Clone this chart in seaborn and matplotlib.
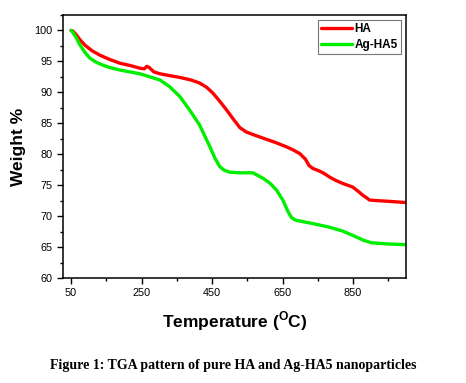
import numpy as np
import pandas as pd
import matplotlib
matplotlib.use("Agg")
import matplotlib.pyplot as plt
import matplotlib.ticker as tkr
import seaborn as sns

# TGA data
temp_ha = [50, 55, 65, 75, 90, 110, 132, 160, 189, 220, 245, 258, 265, 272, 285, 302, 330,
           359, 390, 415, 435, 452, 470, 492, 510, 529, 547, 570, 595, 630, 661, 680, 699,
           715, 725, 736, 750, 765, 784, 800, 820, 849, 865, 877, 890, 897, 920, 950, 1000]
weight_ha = [100, 99.9, 99.3, 98.5, 97.6, 96.7, 96.0, 95.3, 94.7, 94.3, 93.9, 93.8, 94.2,
             94.0, 93.3, 93.0, 92.7, 92.4, 92.0, 91.5, 90.8, 89.9, 88.7, 87.1, 85.7, 84.3,
             83.6, 83.1, 82.6, 81.9, 81.2, 80.7, 80.1, 79.2, 78.2, 77.7, 77.4, 77.0, 76.3,
             75.8, 75.3, 74.7, 74.0, 73.4, 72.9, 72.6, 72.5, 72.4, 72.2]

temp_ag = [50, 55, 65, 75, 90, 104, 120, 140, 160, 189, 245, 302, 330, 359, 387, 415, 444,
           458, 472, 485, 500, 529, 566, 595, 615, 633, 651, 665, 675, 685, 700, 736, 784,
           820, 849, 880, 902, 950, 1000]
weight_ag = [100, 99.7, 98.8, 97.7, 96.4, 95.5, 94.9, 94.4, 94.0, 93.6, 93.0, 92.0, 90.9,
             89.3, 87.1, 84.7, 81.2, 79.4, 78.0, 77.4, 77.1, 77.0, 77.0, 76.1, 75.3, 74.2,
             72.6, 70.8, 69.8, 69.4, 69.2, 68.8, 68.2, 67.6, 66.9, 66.1, 65.7, 65.5, 65.4]

x_major = [50, 250, 450, 650, 850]


def main():
    sns.set_style("ticks")
    plt.rcParams['font.family'] = ['Liberation Sans', 'DejaVu Sans']
    plt.rcParams['mathtext.fontset'] = 'custom'
    plt.rcParams['mathtext.bf'] = 'Liberation Sans:bold'
    plt.rcParams['mathtext.rm'] = 'Liberation Sans:bold'
    plt.rcParams['text.color'] = 'black'
    plt.rcParams['axes.labelcolor'] = 'black'
    plt.rcParams['xtick.color'] = 'black'
    plt.rcParams['ytick.color'] = 'black'

    df_ha = pd.DataFrame({'T': temp_ha, 'W': weight_ha})
    df_ag = pd.DataFrame({'T': temp_ag, 'W': weight_ag})

    fig = plt.figure(figsize=(4.66, 3.83), dpi=100)
    ax = fig.add_axes([0.135, 0.274, 0.736, 0.687])

    sns.lineplot(data=df_ha, x='T', y='W', ax=ax, color='#ff0000', lw=2.4,
                 label='HA', estimator=None)
    sns.lineplot(data=df_ag, x='T', y='W', ax=ax, color='#00ee00', lw=2.4,
                 label='Ag-HA5', estimator=None)

    ax.set_xlim(27, 1000)
    ax.set_ylim(60, 102.5)
    ax.xaxis.set_major_locator(tkr.FixedLocator(x_major))
    ax.xaxis.set_minor_locator(tkr.FixedLocator([150, 350, 550, 750, 950]))
    ax.yaxis.set_major_locator(tkr.MultipleLocator(5))
    ax.yaxis.set_minor_locator(tkr.MultipleLocator(2.5))
    ax.tick_params(which='major', direction='out', length=4, width=1, labelsize=7.8)
    ax.tick_params(which='minor', direction='out', length=2.5, width=1)
    for sp in ax.spines.values():
        sp.set_linewidth(1.1)
        sp.set_color('black')

    ax.set_xlabel(r'Temperature ($^{\mathrm{O}}$C)', fontsize=12.5, fontweight='bold', labelpad=8)
    ax.set_ylabel('Weight %', fontsize=12.5, fontweight='bold', labelpad=6)

    leg = ax.legend(loc='upper right', frameon=True, fancybox=False, handlelength=2.6,
                    borderaxespad=0.4, prop={'weight': 'bold', 'size': 8.5},
                    handletextpad=0.2, borderpad=0.3, labelspacing=0.3)
    leg.get_frame().set_edgecolor('#555555')
    leg.get_frame().set_linewidth(0.8)

    fig.text(0.5, 0.045, 'Figure 1: TGA pattern of pure HA and Ag-HA5 nanoparticles',
             ha='center', va='center', fontsize=10, fontweight='bold',
             family='Liberation Serif')

    fig.savefig('out.png', dpi=100)
    plt.close(fig)


if __name__ == "__main__":
    main()
